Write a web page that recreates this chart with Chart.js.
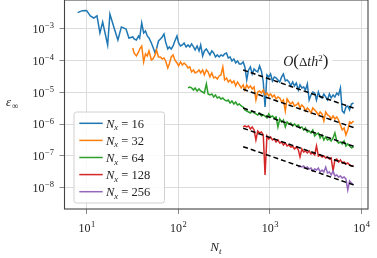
<!DOCTYPE html>
<html>
<head>
<meta charset="utf-8">
<script src="https://cdn.jsdelivr.net/npm/chart.js@4.4.1/dist/chart.umd.min.js"></script>
<style>
  html, body { margin: 0; padding: 0; background: #fff; }
</style>
</head>
<body>
<canvas id="chart-1" width="377" height="258"></canvas>
<script>
// time steps (shared grid), each series covers the tail of it
const nt = [8, 9, 10, 11, 12, 13, 14, 15, 17, 18, 20, 22, 24, 27, 29,
  32, 33, 35, 37, 38, 40, 42, 44, 46, 48,
  51, 53, 56, 58, 61, 64, 67, 70, 73, 77,
  80, 84, 88, 92, 97, 101, 106, 111, 116, 122,
  128, 134, 140, 147, 153, 161, 169, 176, 185, 193,
  203, 212, 222, 233, 244, 255, 267, 280, 293, 307,
  321, 337, 352, 369, 386, 405, 424, 444, 465, 487,
  512, 534, 560, 586, 614, 642, 673, 705, 738, 773,
  809, 848, 887, 930, 973, 1019, 1067, 1118, 1170, 1226,
  1283, 1345, 1406, 1475, 1542, 1618, 1694, 1774, 1858, 1945,
  2048, 2134, 2234, 2340, 2449, 2566, 2685, 2814, 2944, 3087,
  3228, 3385, 3540, 3713, 3882, 4072, 4256, 4466, 4667, 4898,
  5129, 5372, 5623, 5892, 6166, 6462, 6761, 7087, 7413, 7773,
  8192];

const nxLabels = [16, 32, 64, 128, 256];

const err16 = [3.27e-3, 3.78e-3, 3.84e-3, 2.57e-3, 2.22e-3, 2.61e-3, 7.48e-4, 1.66e-3, 3.13e-4, 2.97e-3,
  1.08e-3, 4.50e-4, 1.16e-3, 1.0e-3, 5.20e-4,
  5.60e-4, 4.84e-4, 4.50e-4, 6.02e-4, 5.20e-4, 1.55e-3, 7.48e-4, 8.65e-4, 6.02e-4, 5.20e-4,
  3.62e-4, 2.71e-4, 1.75e-4, 2.34e-4, 4.18e-4, 4.84e-4, 5.60e-4, 6.96e-4, 3.89e-4, 2.34e-4,
  2.71e-4, 2.34e-4, 2.91e-4, 4.18e-4, 6.02e-4, 3.62e-4, 2.91e-4, 3.13e-4, 3.62e-4, 2.71e-4,
  3.13e-4, 2.71e-4, 3.37e-4, 2.71e-4, 2.18e-4, 2.91e-4, 2.03e-4, 3.13e-4, 1.41e-4, 2.03e-4,
  2.34e-4, 1.88e-4, 1.52e-4, 2.03e-4, 1.75e-4, 1.31e-4, 1.52e-4, 1.31e-4, 1.52e-4, 1.41e-4,
  1.63e-4, 1.75e-4, 1.22e-4, 1.31e-4, 9.80e-5, 1.13e-4, 8.47e-5, 9.80e-5, 7.88e-5, 7.88e-5,
  9.11e-5, 6.34e-5, 2.47e-5, 5.10e-5, 6.34e-5, 3.81e-5, 5.48e-5, 4.74e-5, 4.41e-5, 6.82e-5,
  4.74e-5, 2.13e-5, 3.47e-6, 3.55e-5, 3.07e-5, 3.81e-5, 2.29e-5, 3.07e-5, 2.85e-5, 2.47e-5,
  2.13e-5, 3.07e-5, 3.81e-5, 2.29e-5, 2.47e-5, 2.13e-5, 1.60e-5, 2.13e-5, 1.60e-5, 1.98e-5,
  1.19e-5, 1.72e-5, 1.38e-5, 1.48e-5, 1.19e-5, 1.85e-5, 5.76e-6, 8.29e-6, 1.03e-5, 9.58e-6,
  5.76e-6, 1.03e-5, 7.17e-6, 6.66e-6, 8.91e-6, 7.17e-6, 5.76e-6, 8.91e-6, 6.66e-6, 8.29e-6,
  7.17e-6, 9.58e-6, 8.29e-6, 1.38e-5, 2.59e-6, 2.24e-6, 3.47e-6, 3.73e-6, 2.79e-6, 4.31e-6,
  4.64e-6];

const err32 = [2.52e-4, 1.75e-4, 1.41e-4, 1.88e-4, 2.34e-4, 2.91e-4, 9.11e-5, 1.63e-4, 1.41e-4, 2.03e-4,
  1.05e-4, 1.13e-4, 1.52e-4, 2.18e-4, 1.31e-4, 1.31e-4, 1.13e-4, 1.22e-4, 9.80e-5, 5.89e-5,
  7.88e-5, 1.31e-4, 1.52e-4, 1.05e-4, 8.47e-5, 6.82e-5, 9.11e-5, 7.33e-5, 8.47e-5, 7.33e-5,
  5.89e-5, 6.34e-5, 4.41e-5, 5.10e-5, 4.10e-5, 4.41e-5, 5.10e-5, 4.10e-5, 5.10e-5, 3.55e-5,
  5.10e-5, 4.41e-5, 3.07e-5, 4.10e-5, 2.85e-5, 3.07e-5, 2.65e-5, 3.30e-5, 3.55e-5, 6.34e-5,
  2.47e-5, 2.85e-5, 2.13e-5, 2.47e-5, 1.98e-5, 2.29e-5, 1.60e-5, 2.13e-5, 1.72e-5, 1.38e-5,
  1.72e-5, 1.19e-5, 1.72e-5, 1.38e-5, 1.60e-5, 1.28e-5, 1.48e-5, 5.76e-6, 1.03e-5, 1.11e-5,
  9.58e-6, 1.19e-5, 8.29e-6, 9.58e-6, 7.71e-6, 8.91e-6, 7.17e-6, 8.29e-6, 6.20e-6, 7.17e-6,
  6.66e-6, 4.98e-6, 5.76e-6, 2.59e-6, 6.20e-6, 4.98e-6, 4.31e-6, 4.98e-6, 3.73e-6, 4.01e-6,
  4.64e-6, 3.22e-6, 4.01e-6, 3.47e-6, 2.59e-6, 3.22e-6, 2.79e-6, 2.24e-6, 3.22e-6, 2.79e-6,
  2.41e-6, 1.94e-6, 2.41e-6, 2.09e-6, 1.26e-6, 2.41e-6, 1.94e-6, 1.80e-6, 1.45e-6, 1.80e-6,
  1.45e-6, 1.68e-6, 1.35e-6, 9.39e-7, 6.53e-7, 7.55e-7, 4.54e-7, 6.53e-7, 1.17e-6, 1.08e-6,
  1.26e-6];

const err64 = [1.38e-5, 1.48e-5, 1.38e-5, 1.19e-5, 1.38e-5, 1.11e-5, 1.28e-5, 1.11e-5, 1.03e-5, 9.58e-6,
  1.85e-5, 8.91e-6, 8.29e-6, 8.91e-6, 7.17e-6, 8.29e-6, 6.66e-6, 7.17e-6, 6.20e-6, 6.66e-6,
  5.76e-6, 5.36e-6, 5.76e-6, 4.64e-6, 5.36e-6, 4.31e-6, 4.98e-6, 4.01e-6, 4.31e-6, 3.73e-6,
  3.47e-6, 2.79e-6, 2.59e-6, 2.41e-6, 2.24e-6, 2.59e-6, 2.24e-6, 2.09e-6, 1.94e-6, 2.24e-6,
  1.80e-6, 1.94e-6, 1.80e-6, 1.56e-6, 2.09e-6, 1.68e-6, 1.80e-6, 1.56e-6, 1.68e-6, 8.12e-7,
  1.45e-6, 1.17e-6, 1.35e-6, 8.12e-7, 1.17e-6, 1.01e-6, 1.08e-6, 8.73e-7, 1.01e-6, 8.73e-7,
  9.39e-7, 7.55e-7, 8.12e-7, 6.53e-7, 7.55e-7, 5.65e-7, 6.07e-7, 5.25e-7, 6.53e-7, 4.22e-7,
  4.88e-7, 5.25e-7, 3.65e-7, 4.54e-7, 3.16e-7, 3.93e-7, 3.16e-7, 3.40e-7, 2.94e-7, 3.65e-7,
  5.25e-7, 2.94e-7, 2.54e-7, 2.73e-7, 2.36e-7, 2.94e-7, 2.04e-7, 2.36e-7, 2.04e-7, 1.77e-7,
  1.90e-7];

const err128 = [8.12e-7, 8.73e-7, 8.12e-7, 8.73e-7, 7.02e-7, 8.12e-7, 6.53e-7, 3.16e-7, 6.07e-7, 5.25e-7,
  5.65e-7, 4.54e-7, 2.48e-8, 4.22e-7, 3.40e-7, 3.93e-7, 3.16e-7, 3.40e-7, 2.73e-7, 3.16e-7,
  2.54e-7, 2.73e-7, 2.20e-7, 2.54e-7, 2.04e-7, 2.20e-7, 1.90e-7, 2.04e-7, 1.64e-7, 1.90e-7,
  1.53e-7, 9.18e-8, 1.64e-7, 1.32e-7, 1.42e-7, 1.23e-7, 1.42e-7, 1.14e-7, 1.23e-7, 1.06e-7,
  2.04e-7, 9.87e-8, 1.06e-7, 9.18e-8, 9.87e-8, 8.54e-8, 9.18e-8, 7.94e-8, 8.54e-8, 3.32e-8,
  7.38e-8, 7.94e-8, 6.38e-8, 7.38e-8, 5.94e-8, 6.38e-8, 5.52e-8, 5.94e-8, 5.13e-8, 4.77e-8,
  4.77e-8];

const err256 = [4.44e-8, 4.77e-8, 4.44e-8, 4.77e-8, 4.13e-8, 4.44e-8, 3.84e-8, 4.13e-8, 3.32e-8, 3.84e-8,
  3.57e-8, 4.13e-8, 3.09e-8, 3.57e-8, 3.09e-8, 4.44e-8, 2.87e-8, 3.09e-8, 2.48e-8, 3.32e-8,
  2.31e-8, 2.48e-8, 2.15e-8, 2.31e-8, 2.00e-8, 2.15e-8, 1.86e-8, 8.35e-9, 1.61e-8, 1.39e-8,
  1.20e-8];

// O(dt h^2) guide lines, endpoints at N_t = 512 and 8192
const refNt = [512, 8192];
const ref16 = [5.1e-5, 3.2e-6];
const ref32 = [1.25e-5, 7.8e-7];
const ref64 = [3.2e-6, 2.0e-7];
const ref128 = [7.4e-7, 4.6e-8];
const ref256 = [1.94e-7, 1.21e-8];

const xTicks = [10, 100, 1000, 10000];
const yTicks = [1e-8, 1e-7, 1e-6, 1e-5, 1e-4, 1e-3];

const colors = ["#1f77b4", "#ff7f0e", "#2ca02c", "#d62728", "#9467bd"];
const serif = '"Liberation Serif", "DejaVu Serif", serif';

function tail(vals) {
  const off = nt.length - vals.length;
  return vals.map((v, i) => ({ x: nt[off + i], y: v }));
}
function pair(vals) {
  return vals.map((v, i) => ({ x: refNt[i], y: v }));
}

const series = [err16, err32, err64, err128, err256];
const refs = [ref16, ref32, ref64, ref128, ref256];

const datasets = [];
refs.forEach((r, i) => {
  datasets.push({
    data: pair(r), borderColor: "#000", borderWidth: 1.5, borderDash: [5, 3],
    pointRadius: 0, order: 0
  });
});
series.forEach((s, i) => {
  datasets.push({
    label: "N_x = " + nxLabels[i], data: tail(s), borderColor: colors[i],
    borderWidth: 1.5, pointRadius: 0, tension: 0, order: 10 - i
  });
});

function drawPow(ctx, x, y, exp, align) {
  const base = "10";
  const sup = (exp < 0 ? "\u2212" : "") + Math.abs(exp);
  ctx.font = "12px " + serif;
  const w1 = ctx.measureText(base).width;
  ctx.font = "8.5px " + serif;
  const w2 = ctx.measureText(sup).width;
  let x0 = align === "right" ? x - (w1 + w2) : x - (w1 + w2) / 2;
  ctx.textAlign = "left";
  ctx.textBaseline = "alphabetic";
  ctx.font = "12px " + serif;
  ctx.fillText(base, x0, y);
  ctx.font = "8.5px " + serif;
  ctx.fillText(sup, x0 + w1 + 0.5, y - 4.8);
}

const overlay = {
  id: "overlay",
  afterDraw(chart) {
    const ctx = chart.ctx;
    const a = chart.chartArea;
    const xs = chart.scales.x, ys = chart.scales.y;
    ctx.save();
    // frame
    ctx.strokeStyle = "#444";
    ctx.lineWidth = 1.1;
    ctx.strokeRect(a.left, a.top, a.right - a.left, a.bottom - a.top);

    ctx.fillStyle = "#222";
    xTicks.forEach(v => drawPow(ctx, xs.getPixelForValue(v), a.bottom + 23, Math.round(Math.log10(v)), "center"));
    yTicks.forEach(v => drawPow(ctx, a.left - 11, ys.getPixelForValue(v) + 4.3, Math.round(Math.log10(v)), "right"));

    // axis titles
    ctx.textAlign = "left";
    ctx.font = "italic 13px " + serif;
    ctx.fillText("\u03b5", 6, 106);
    ctx.font = "9px " + serif;
    ctx.fillText("\u221e", 12, 109);
    const cx = (a.left + a.right) / 2;
    ctx.font = "italic 13px " + serif;
    const wN = ctx.measureText("N").width;
    ctx.fillText("N", cx - 6, 251);
    ctx.font = "italic 9px " + serif;
    ctx.fillText("t", cx - 6 + wN, 254);

    // legend
    const lx = 74, ly = 112, lw = 90.5, lh = 91;
    ctx.beginPath();
    ctx.roundRect(lx, ly, lw, lh, 2.5);
    ctx.fillStyle = "rgba(255,255,255,0.85)";
    ctx.fill();
    ctx.strokeStyle = "#d0d0d0";
    ctx.lineWidth = 1;
    ctx.stroke();
    nxLabels.forEach((n, i) => {
      const ry = 123.3 + 17.1 * i;
      ctx.strokeStyle = colors[i];
      ctx.lineWidth = 1.5;
      ctx.beginPath();
      ctx.moveTo(79.3, ry);
      ctx.lineTo(102.7, ry);
      ctx.stroke();
      ctx.fillStyle = "#222";
      let tx = 106;
      ctx.font = "italic 12.5px " + serif;
      ctx.fillText("N", tx, ry + 4.3);
      tx += ctx.measureText("N").width;
      ctx.font = "italic 8.5px " + serif;
      ctx.fillText("x", tx, ry + 7);
      tx += ctx.measureText("x").width;
      ctx.font = "12.5px " + serif;
      ctx.fillText(" = " + n, tx, ry + 4.3);
    });

    // annotation O(dt h^2)
    const annX = xs.getPixelForValue(2470), annY = ys.getPixelForValue(9.5e-5);
    const parts = [
      ["O", "italic 14px ", 0],
      ["(", "17px ", 0],
      ["\u0394", "13px ", 0],
      ["th", "italic 14px ", 0],
      ["2", "9px ", -5.5],
      [")", "17px ", 0]
    ];
    let tot = 0;
    parts.forEach(p => { ctx.font = p[1] + serif; p.push(ctx.measureText(p[0]).width); tot += p[3]; });
    ctx.fillStyle = "#fff";
    ctx.fillRect(annX - tot / 2 - 4, annY - 11, tot + 8, 22);
    ctx.fillStyle = "#222";
    let px = annX - tot / 2;
    parts.forEach(p => {
      ctx.font = p[1] + serif;
      ctx.fillText(p[0], px, annY + 5 + p[2]);
      px += p[3];
    });
    ctx.restore();
  }
};

const ctx1 = document.getElementById("chart-1").getContext("2d");
const myChart = new Chart(ctx1, {
  type: "line",
  data: { datasets: datasets },
  options: {
    responsive: false,
    animation: false,
    devicePixelRatio: 1,
    layout: { padding: { left: 0, right: 9, top: 0, bottom: 0 } },
    plugins: { legend: { display: false }, tooltip: { enabled: false } },
    scales: {
      x: {
        type: "logarithmic", min: 5.75, max: 11780,
        border: { display: false },
        grid: { color: "#dcdcdc", tickColor: "#888", tickLength: 5 },
        ticks: { display: false },
        afterBuildTicks: s => { s.ticks = xTicks.map(v => ({ value: v })); },
        afterFit: s => { s.height = 49; }
      },
      y: {
        type: "logarithmic", min: 2.1e-9, max: 8.2e-3,
        border: { display: false },
        grid: { color: "#dcdcdc", tickColor: "#888", tickLength: 5 },
        ticks: { display: false },
        afterBuildTicks: s => { s.ticks = yTicks.map(v => ({ value: v })); },
        afterFit: s => { s.width = 64.5; }
      }
    }
  },
  plugins: [overlay]
});
</script>
</body>
</html>
